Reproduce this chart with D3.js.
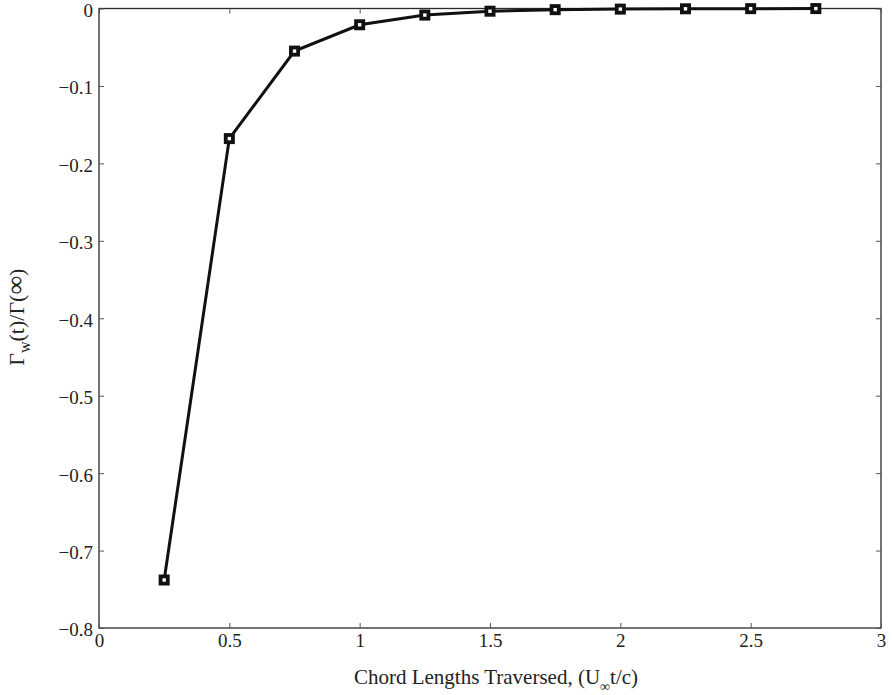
<!DOCTYPE html>
<html>
<head>
<meta charset="utf-8">
<script src="https://cdn.jsdelivr.net/npm/d3@7"></script>
<style>
  body { margin: 0; background: #fff; }
  text { font-family: "Liberation Serif", "Times New Roman", serif; fill: #222; }
</style>
</head>
<body>
<div id="chart"></div>
<script>
let width = 892, height = 695;
let margin = {top: 8.5, right: 11, bottom: 67, left: 99};

// data
let chordLengths = [0.25, 0.5, 0.75, 1, 1.25, 1.5, 1.75, 2, 2.25, 2.5, 2.75];
let gammaRatio = [-0.738, -0.168, -0.055, -0.021, -0.0085, -0.0035, -0.0015, -0.0008, -0.0004, -0.0002, -0.0001];
let xTicks = [0, 0.5, 1, 1.5, 2, 2.5, 3];
let yTicks = [0, -0.1, -0.2, -0.3, -0.4, -0.5, -0.6, -0.7, -0.8];

let w = width - margin.left - margin.right;
let h = height - margin.top - margin.bottom;

let xScale = d3.scaleLinear().domain([0, 3]).range([0, w]);
let yScale = d3.scaleLinear().domain([-0.8, 0]).range([h, 0]);

let fmt = v => v === 0 ? "0" : d3.format(".1f")(v).replace("-", "\u2212");

let svg = d3.select("#chart").append("svg")
    .attr("width", width)
    .attr("height", height)
    .append("g")
    .attr("transform", "translate(" + margin.left + "," + margin.top + ")");

// frame
svg.append("rect")
    .attr("width", w).attr("height", h)
    .attr("fill", "none").attr("stroke", "#2a2a2a").attr("stroke-width", 1.3);

let tickLen = 5;
// ticks point inward on all four sides
let xAxis = svg.append("g").attr("transform", "translate(0," + h + ")")
    .call(d3.axisBottom(xScale).tickValues(xTicks).tickFormat(d => String(d)).tickSizeInner(-tickLen).tickSizeOuter(0).tickPadding(6));
let xTop = svg.append("g")
    .call(d3.axisTop(xScale).tickValues(xTicks).tickFormat("").tickSizeInner(-tickLen).tickSizeOuter(0));
let yAxis = svg.append("g")
    .call(d3.axisLeft(yScale).tickValues(yTicks).tickFormat(fmt).tickSizeInner(-tickLen).tickSizeOuter(0).tickPadding(6));
let yRight = svg.append("g").attr("transform", "translate(" + w + ",0)")
    .call(d3.axisRight(yScale).tickValues(yTicks).tickFormat("").tickSizeInner(-tickLen).tickSizeOuter(0));

[xAxis, xTop, yAxis, yRight].forEach(a => {
    a.attr("font-family", null);
    a.select(".domain").remove();
    a.selectAll(".tick line").attr("stroke", "#555");
    a.selectAll("text")
        .style("font-family", "'Liberation Serif', serif")
        .style("font-size", "19px")
        .attr("fill", "#222");
});
yAxis.selectAll("text").attr("dy", "0.42em");

// line
let pts = chordLengths.map((x, i) => [x, gammaRatio[i]]);
svg.append("path")
    .datum(pts)
    .attr("fill", "none")
    .attr("stroke", "#111")
    .attr("stroke-width", 3)
    .attr("d", d3.line().x(d => xScale(d[0])).y(d => yScale(d[1])));

// square markers
svg.selectAll(".marker")
    .data(pts)
    .enter()
    .append("rect")
    .attr("class", "marker")
    .attr("x", d => xScale(d[0]) - 3.6)
    .attr("y", d => yScale(d[1]) - 3.6)
    .attr("width", 7.2).attr("height", 7.2)
    .attr("fill", "#fff")
    .attr("stroke", "#111")
    .attr("stroke-width", 3.8);

// x label
let xl = svg.append("text")
    .attr("x", w / 2 + 6)
    .attr("y", h + 56)
    .attr("text-anchor", "middle")
    .style("font-size", "21px");
xl.append("tspan").text("Chord Lengths Traversed, (U");
xl.append("tspan").attr("dy", 7).style("font-size", "14px").text("\u221E");
xl.append("tspan").attr("dy", -7).text("t/c)");

// y label
let yl = svg.append("text")
    .attr("transform", "translate(" + (-75) + "," + (h / 2 - 1) + ") rotate(-90)")
    .attr("text-anchor", "middle")
    .style("font-size", "22px");
yl.append("tspan").text("\u0393");
yl.append("tspan").attr("dy", 6).style("font-size", "16px").text("w");
yl.append("tspan").attr("dy", -6).text("(t)/\u0393(");
yl.append("tspan").style("font-size", "26px").text("\u221E");
yl.append("tspan").text(")");
</script>
</body>
</html>
